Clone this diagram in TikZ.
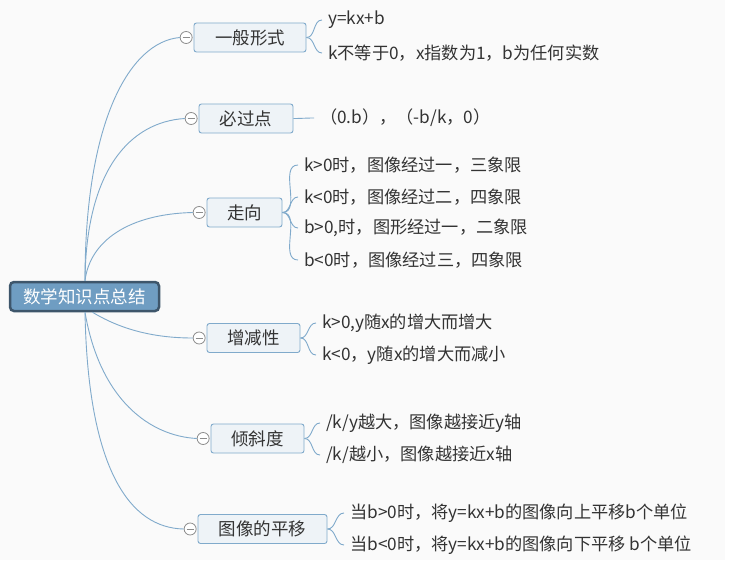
\documentclass[tikz,border=0pt]{standalone}
\usepackage{fontspec}
\newfontfamily\cjk{Noto Sans CJK SC}
\usepackage{tikz}
\usetikzlibrary{positioning}
\definecolor{mm-bg}{HTML}{FAFAFA}
\definecolor{mm-line}{HTML}{80AACB}
\definecolor{mm-fill}{HTML}{EEF3F7}
\definecolor{mm-root}{HTML}{6F9DC2}
\definecolor{mm-rootdraw}{HTML}{3E566B}
\definecolor{mm-text}{HTML}{333333}
\definecolor{mm-gray}{HTML}{8C8C8C}
\tikzset{
  topic-root/.style={draw=mm-rootdraw, line width=2.5pt, fill=mm-root, rounded corners=4pt,
    text=white, font=\cjk\fontsize{17.5}{20}\selectfont, minimum width=149pt, minimum height=29pt, inner sep=0pt},
  topic-main/.style={draw=mm-line, fill=mm-fill, rounded corners=2.5pt, line width=0.9pt,
    text=mm-text, font=\cjk\fontsize{17.5}{20}\selectfont, minimum height=29pt, inner sep=0pt},
  topic-leaf/.style={anchor=west, inner sep=0pt, text=mm-text, font=\cjk\fontsize{17.2}{19}\selectfont},
  topic-link/.style={draw=mm-line, line width=0.9pt},
  collapse/.style={circle, draw=mm-gray, fill=white, line width=0.8pt, minimum size=12pt, inner sep=0pt},
}
\begin{document}
\begin{tikzpicture}[x=1pt, y=-1pt]
  \useasboundingbox (0,0) rectangle (744,575);
  \fill[white] (0,0) rectangle (744,575);
  \fill[mm-bg] (0,0) rectangle (725,560);

  \node[topic-root] (root) at (84.5,296.5) {数学知识点总结};

  % main topics
  \foreach \x/\y/\w/\t [count=\i] in {250/37.5/112/一般形式, 246/118.5/94/必过点, 244.5/212.5/75/走向,
      253.5/338/93/增减性, 257.5/438.5/93/倾斜度, 262.5/529/129/图像的平移} {
    \node[topic-main, minimum width=\w pt] (b\i) at (\x,\y) {\t};
    \node[collapse, left=1pt of b\i] (c\i) {};
    \draw[mm-gray, line width=0.8pt] ([xshift=-3.5pt]c\i.center) -- ([xshift=3.5pt]c\i.center);
  }

  % links from the root
  \coordinate (r-top) at ([xshift=0.5pt]root.north);
  \coordinate (r-bot) at ([xshift=0.5pt]root.south);
  \coordinate (r-bot2) at ([xshift=8pt]root.south);
  \draw[topic-link] (r-top) .. controls (85,120) and (130,42) .. (c1.west);
  \draw[topic-link] (r-top) .. controls (86,170) and (130,122) .. (c2.west);
  \draw[topic-link] (r-top) .. controls (90,240) and (130,214) .. (c3.west);
  \draw[topic-link] (r-bot2) .. controls (125,332) and (160,338) .. (c4.west);
  \draw[topic-link] (r-bot) .. controls (100,400) and (150,436) .. (c5.west);
  \draw[topic-link] (r-bot) .. controls (88,470) and (130,528) .. (c6.west);

  % subtopics
  \foreach \b/\x/\y/\t [count=\i] in {
      1/328/20/{y=kx+b},
      1/328/53/{k不等于0，x指数为1，b为任何实数},
      2/320/118/{（0.b），（-b/k，0）},
      3/304/165/{k>0时，图像经过一，三象限},
      3/304/197/{k<0时，图像经过二，四象限},
      3/304/228/{b>0,时，图形经过一，二象限},
      3/304/260/{b<0时，图像经过三，四象限},
      4/322/323/{k>0,y随x的增大而增大},
      4/322/355/{k<0，y随x的增大而减小},
      5/326/423/{/k/y越大，图像越接近y轴},
      5/326/455/{/k/越小，图像越接近x轴},
      6/350/513/{当b>0时，将y=kx+b的图像向上平移b个单位},
      6/350/545/{当b<0时，将y=kx+b的图像向下平移 b个单位}} {
    \node[topic-leaf] (l\i) at (\x,\y) {\t};
    \draw[topic-link] (b\b.east) to[out=0, in=180] ([xshift=-6pt]l\i.west);
  }
\end{tikzpicture}
\end{document}
